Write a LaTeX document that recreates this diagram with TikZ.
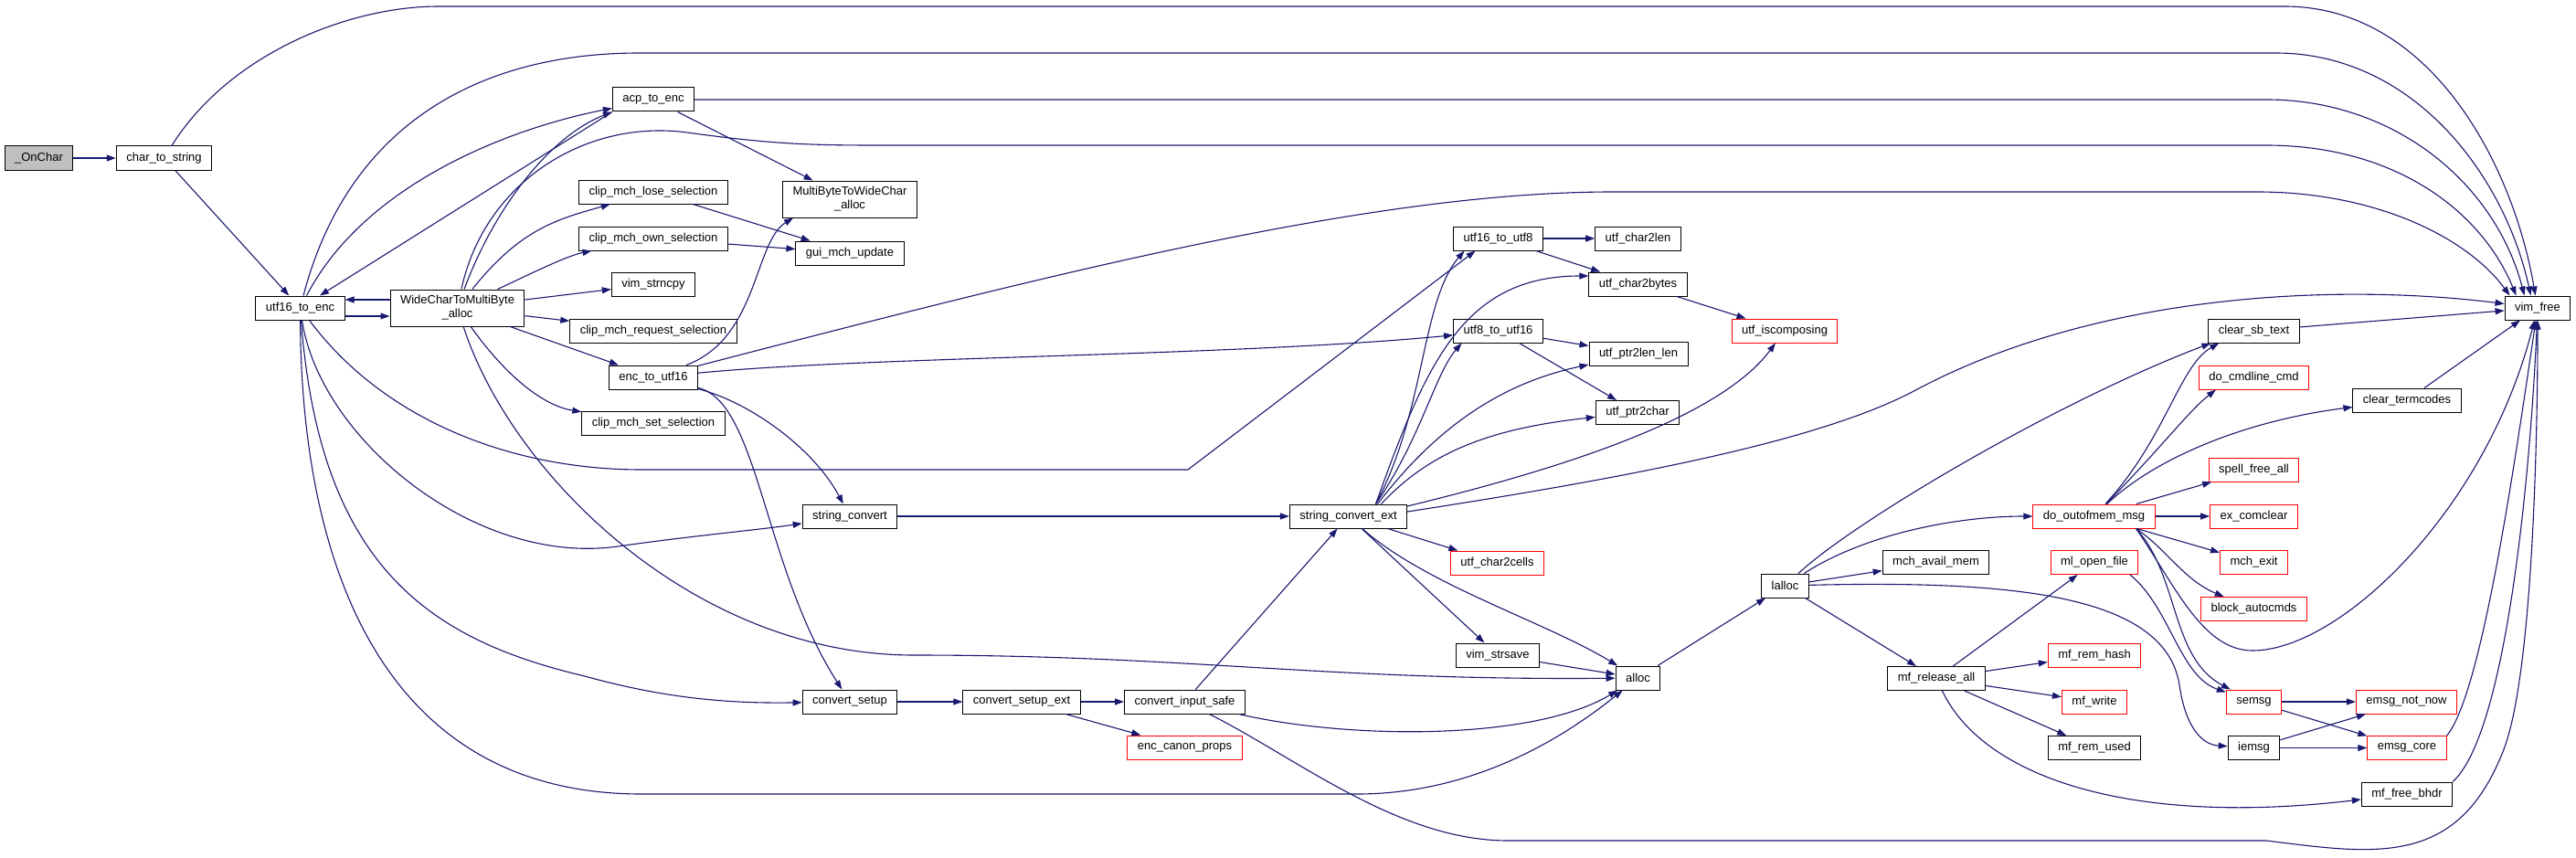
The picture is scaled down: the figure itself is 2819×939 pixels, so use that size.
\documentclass[tikz,border=0pt]{standalone}
\usepackage{fontspec}
\setmainfont{Liberation Sans}
\usetikzlibrary{arrows.meta}
\definecolor{EdgeBlue}{RGB}{25,25,112}
\definecolor{CallRed}{RGB}{255,0,0}
\definecolor{RootGray}{RGB}{191,191,191}

\begin{document}
\begin{tikzpicture}[
    x=1pt,
    y=-1pt,
    font=\fontsize{13}{15}\selectfont,
    >={Triangle[length=10pt,width=7pt]},
    func/.style={
        draw=black,
        line width=1pt,
        fill=white,
        minimum height=26pt,
        inner xsep=11pt,
        inner ysep=2pt,
        align=center
    },
    trunc/.style={
        func,
        draw=CallRed
    },
    root/.style={
        func,
        fill=RootGray
    },
    call/.style={
        ->,
        line width=1.1pt,
        draw=EdgeBlue
    }
]

\path[use as bounding box, fill=white] (0,0) rectangle (2819,939);

% caller side
\node[root] (onchar) at (42.5,173) {\_OnChar};
\node[func] (chartostr) at (179.5,173) {char\_to\_string};
\node[func] (utf16toenc) at (328.5,337) {utf16\_to\_enc};
\node[func, minimum height=40pt] (wctomb) at (500.5,337) {WideCharToMultiByte\\\_alloc};

% second rank
\node[func] (acptoenc) at (715,109) {acp\_to\_enc};
\node[func] (cliplose) at (715,210) {clip\_mch\_lose\_selection};
\node[func] (clipown) at (715,261) {clip\_mch\_own\_selection};
\node[func] (strncpy) at (715,311) {vim\_strncpy};
\node[func] (clipreq) at (715,362) {clip\_mch\_request\_selection};
\node[func] (enctoutf16) at (715,413) {enc\_to\_utf16};
\node[func] (clipset) at (715,463) {clip\_mch\_set\_selection};

\node[func, minimum height=40pt] (mbtowc) at (930,218) {MultiByteToWideChar\\\_alloc};
\node[func] (guiupdate) at (930,277) {gui\_mch\_update};
\node[func] (strconv) at (930,565) {string\_convert};
\node[func] (convsetup) at (930,768) {convert\_setup};
\node[func] (convsetupext) at (1118,768) {convert\_setup\_ext};
\node[func] (convinput) at (1296.5,768) {convert\_input\_safe};
\node[trunc] (canonprops) at (1296.5,818) {enc\_canon\_props};
\node[func] (strconvext) at (1475.5,565) {string\_convert\_ext};

% utf helpers
\node[func] (utf16toutf8) at (1639.5,261) {utf16\_to\_utf8};
\node[func] (utf8toutf16) at (1639.5,362) {utf8\_to\_utf16};
\node[trunc] (char2cells) at (1638.5,616) {utf\_char2cells};
\node[func] (strsave) at (1639,717) {vim\_strsave};
\node[func] (char2len) at (1792.5,261) {utf\_char2len};
\node[func] (char2bytes) at (1792.5,311) {utf\_char2bytes};
\node[func] (ptr2lenlen) at (1793,387.5) {utf\_ptr2len\_len};
\node[func] (ptr2char) at (1792,451.5) {utf\_ptr2char};
\node[func] (alloc) at (1792.5,742) {alloc};
\node[trunc] (iscomposing) at (1953,362) {utf\_iscomposing};
\node[func] (lalloc) at (1953.5,641) {lalloc};

% memory side
\node[func] (availmem) at (2118.5,615.5) {mch\_avail\_mem};
\node[func] (releaseall) at (2119,742.5) {mf\_release\_all};
\node[trunc] (outofmem) at (2291.5,565) {do\_outofmem\_msg};
\node[trunc] (openfile) at (2292,615.5) {ml\_open\_file};
\node[trunc] (remhash) at (2292,717) {mf\_rem\_hash};
\node[trunc] (mfwrite) at (2292,768) {mf\_write};
\node[func] (remused) at (2292,818.5) {mf\_rem\_used};

\node[func] (clearsb) at (2466.5,362) {clear\_sb\_text};
\node[trunc] (cmdline) at (2466.5,413) {do\_cmdline\_cmd};
\node[trunc] (spellfree) at (2466.5,514) {spell\_free\_all};
\node[trunc] (comclear) at (2466.5,565) {ex\_comclear};
\node[trunc] (mchexit) at (2466.5,615.5) {mch\_exit};
\node[trunc] (blockau) at (2466.5,666.5) {block\_autocmds};
\node[trunc] (semsg) at (2466.5,768) {semsg};
\node[func] (iemsg) at (2466.5,818.5) {iemsg};

\node[func] (termcodes) at (2634,438) {clear\_termcodes};
\node[trunc] (notnow) at (2633.5,768) {emsg\_not\_now};
\node[trunc] (emsgcore) at (2634,818.5) {emsg\_core};
\node[func] (freebhdr) at (2634,869) {mf\_free\_bhdr};
\node[func] (vimfree) at (2777,337) {vim\_free};

% _OnChar and char_to_string
\draw[call] (onchar) -- (chartostr);
\draw[call] (chartostr) -- (utf16toenc);
\draw[call] (chartostr) .. controls (250,60) and (380,7) .. (480,7) -- (2500,7) .. controls (2660,7) and (2750,180) .. ([xshift=34pt]vimfree.north west);

% utf16_to_enc
\draw[call] (utf16toenc) .. controls (380,140) and (520,58) .. (700,58) -- (2490,58) .. controls (2640,58) and (2740,190) .. ([xshift=29pt]vimfree.north west);
\draw[call] (utf16toenc) .. controls (400,200) and (560,140) .. ([yshift=4pt]acptoenc.south west);
\draw[call] ([yshift=-9pt]utf16toenc.east) -- ([yshift=-9pt]wctomb.west);
\draw[call] (utf16toenc) .. controls (350,480) and (520,620) .. (676,598) .. controls (760,586) and (830,580) .. (strconv);
\draw[call] (utf16toenc) .. controls (350,620) and (470,700) .. (640,740) .. controls (730,765) and (800,770) .. (convsetup);
\draw[call] (utf16toenc) .. controls (330,620) and (420,869) .. (702,869) -- (1485,869) .. controls (1620,869) and (1720,800) .. (alloc);
\draw[call] (utf16toenc) .. controls (420,460) and (560,514) .. (702,514) -- (1300,514) -- ([xshift=-25pt]utf16toutf8.south);

% WideCharToMultiByte_alloc
\draw[call] ([yshift=9pt]wctomb.west) -- ([yshift=9pt]utf16toenc.east);
\draw[call] (wctomb) .. controls (540,230) and (600,150) .. (acptoenc.south west);
\draw[call] (wctomb) .. controls (570,250) and (610,240) .. (cliplose);
\draw[call] (wctomb) .. controls (580,300) and (620,280) .. (clipown);
\draw[call] (wctomb) -- (strncpy);
\draw[call] (wctomb) -- (clipreq);
\draw[call] (wctomb) -- (enctoutf16);
\draw[call] (wctomb) .. controls (560,420) and (600,445) .. (clipset);
\draw[call] (wctomb) .. controls (530,200) and (640,130) .. (752,145) .. controls (860,160) and (900,159) .. (1000,159) -- (2480,159) .. controls (2620,159) and (2715,230) .. ([xshift=13pt]vimfree.north west);
\draw[call] (wctomb) .. controls (560,520) and (760,717) .. (1000,717) .. controls (1300,717) and (1450,745) .. (alloc);

% acp_to_enc
\draw[call] (acptoenc) -- (mbtowc);
\draw[call] (acptoenc.south west) -- (utf16toenc);
\draw[call] (acptoenc) -- (2480,109) .. controls (2620,109) and (2730,200) .. ([xshift=22pt]vimfree.north west);

% clipboard
\draw[call] (cliplose) -- (guiupdate);
\draw[call] (clipown) -- (guiupdate);

% enc_to_utf16
\draw[call] (enctoutf16) .. controls (830,370) and (825,265) .. ([xshift=12pt]mbtowc.south west);
\draw[call] (enctoutf16) .. controls (950,390) and (1350,390) .. (utf8toutf16);
\draw[call] (enctoutf16) .. controls (1150,300) and (1500,210) .. (1765,210) -- (2470,210) .. controls (2600,210) and (2700,260) .. ([xshift=6pt]vimfree.north west);
\draw[call] (enctoutf16) .. controls (820,440) and (890,490) .. (strconv);
\draw[call] (enctoutf16) .. controls (830,440) and (835,620) .. (convsetup);

% conversion chain
\draw[call] (strconv) -- (strconvext);
\draw[call] (convsetup) -- (convsetupext);
\draw[call] (convsetupext) -- (convinput);
\draw[call] (convsetupext) -- (canonprops);
\draw[call] (convinput) -- (strconvext);
\draw[call] (convinput) .. controls (1480,810) and (1680,810) .. (alloc);
\draw[call] (convinput) .. controls (1420,830) and (1530,920) .. (1650,920) -- (2480,920) .. controls (2600,935) and (2690,950) .. (2740,820) .. controls (2770,742) and (2777,500) .. (vimfree);

% string_convert_ext
\draw[call] ([xshift=30pt]strconvext.north) .. controls (1560,450) and (1555,330) .. ([xshift=-37pt]utf16toutf8.south);
\draw[call] ([xshift=30pt]strconvext.north) .. controls (1560,400) and (1600,302) .. ([yshift=9pt]char2bytes.west);
\draw[call] ([xshift=30pt]strconvext.north) .. controls (1555,480) and (1570,410) .. ([xshift=-40pt]utf8toutf16.south);
\draw[call] ([xshift=32pt]strconvext.north) .. controls (1570,470) and (1640,420) .. (ptr2lenlen);
\draw[call] ([xshift=36pt]strconvext.north) .. controls (1560,500) and (1620,470) .. (ptr2char);
\draw[call] ([yshift=11pt]strconvext.east) .. controls (1700,515) and (1880,460) .. (iscomposing);
\draw[call] ([yshift=5pt]strconvext.east) .. controls (1800,520) and (2000,480) .. (2100,425) .. controls (2300,320) and (2560,310) .. (vimfree);
\draw[call] (strconvext) -- (char2cells);
\draw[call] (strconvext) -- (strsave);
\draw[call] (strconvext) .. controls (1560,640) and (1690,680) .. (alloc);

% utf helpers
\draw[call] (utf16toutf8) -- (char2len);
\draw[call] (utf16toutf8) -- (char2bytes);
\draw[call] (utf8toutf16) -- (ptr2lenlen);
\draw[call] (utf8toutf16) -- (ptr2char);
\draw[call] (char2bytes) -- (iscomposing);
\draw[call] (strsave) -- (alloc);

% allocation
\draw[call] (alloc) -- (lalloc);
\draw[call] (lalloc) .. controls (2030,570) and (2250,440) .. ([xshift=3pt]clearsb.south west);
\draw[call] (lalloc) .. controls (2040,585) and (2140,565) .. (outofmem);
\draw[call] (lalloc) -- (availmem);
\draw[call] (lalloc) -- (releaseall);
\draw[call] (lalloc) .. controls (2200,635) and (2370,650) .. (2385,750) .. controls (2392,797) and (2410,815) .. (iemsg);

% do_outofmem_msg
\draw[call] (outofmem) .. controls (2370,480) and (2385,400) .. ([xshift=12pt]clearsb.south west);
\draw[call] (outofmem) .. controls (2365,490) and (2395,450) .. ([xshift=19pt]cmdline.south west);
\draw[call] (outofmem) .. controls (2360,500) and (2460,460) .. (termcodes);
\draw[call] (outofmem) -- (spellfree);
\draw[call] (outofmem) -- (comclear);
\draw[call] (outofmem) -- (mchexit);
\draw[call] ([xshift=46pt]outofmem.south) .. controls (2370,600) and (2390,635) .. (blockau);
\draw[call] ([xshift=46pt]outofmem.south) .. controls (2385,630) and (2375,720) .. (semsg);
\draw[call] ([xshift=46pt]outofmem.south) .. controls (2380,640) and (2410,712) .. (2465,712) .. controls (2560,712) and (2720,560) .. (vimfree);

% mf_release_all
\draw[call] (releaseall) -- (openfile);
\draw[call] (releaseall) -- (remhash);
\draw[call] (releaseall) -- (mfwrite);
\draw[call] (releaseall) -- (remused);
\draw[call] (releaseall) .. controls (2170,850) and (2330,905) .. (freebhdr);
\draw[call] ([xshift=39pt]openfile.south) .. controls (2375,665) and (2385,740) .. (semsg);

% messages
\draw[call] (semsg) -- (notnow);
\draw[call] (semsg) -- (emsgcore);
\draw[call] (iemsg) -- (notnow);
\draw[call] (iemsg) -- (emsgcore);
\draw[call] (emsgcore.north east) .. controls (2715,760) and (2750,520) .. (vimfree);
\draw[call] (freebhdr.north east) .. controls (2745,800) and (2770,500) .. (vimfree);
\draw[call] (clearsb) -- (vimfree);
\draw[call] (termcodes) -- (vimfree);

\end{tikzpicture}
\end{document}
